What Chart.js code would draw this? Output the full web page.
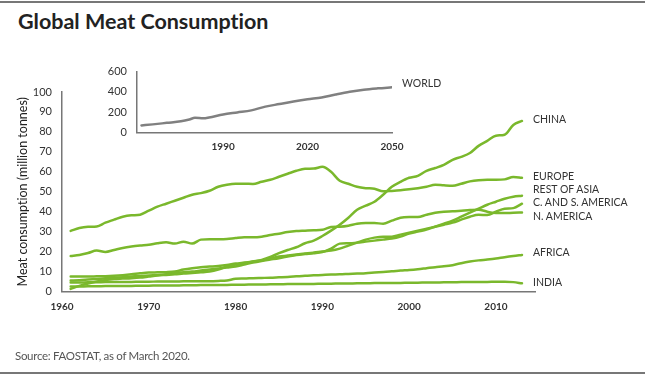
<!DOCTYPE html>
<html>
<head>
<meta charset="utf-8">
<script src="https://cdn.jsdelivr.net/npm/chart.js@4"></script>
<style>
  html, body { margin: 0; padding: 0; background: #fff; }
  #wrap { position: relative; width: 645px; height: 383px; overflow: hidden; font-family: Lato, "Noto Sans", sans-serif; font-variant-ligatures: none; font-feature-settings: "liga" 0, "clig" 0; }
  #main { position: absolute; left: 0; top: 0; }
  #inset { position: absolute; left: 90px; top: 55px; }
  .rule { position: absolute; left: 0; width: 645px; background: #777; }
  .title { position: absolute; left: 18px; top: 8px; font-size: 21.5px; font-weight: 700; color: #222; white-space: nowrap; }
  .source { position: absolute; left: 15px; top: 349px; font-size: 11.5px; letter-spacing: -0.3px; color: #555; white-space: nowrap; }
  .lab { position: absolute; font-size: 10.5px; color: #333; white-space: nowrap; line-height: 12px; }
</style>
</head>
<body>
<div id="wrap">
  <div class="rule" style="top:1px;height:2px"></div>
  <div class="title">Global Meat Consumption</div>
  <canvas id="main" width="645" height="383"></canvas>
  <canvas id="inset" width="330" height="100"></canvas>
  <div class="source">Source: FAOSTAT, as of March 2020.</div>
  <div class="rule" style="top:372px;height:1.5px"></div>
  <div id="labels"></div>
</div>
<script>
// ---------- DATA ----------
const years = [1961,1962,1963,1964,1965,1966,1967,1968,1969,1970,
  1971,1972,1973,1974,1975,1976,1977,1978,1979,1980,
  1981,1982,1983,1984,1985,1986,1987,1988,1989,1990,
  1991,1992,1993,1994,1995,1996,1997,1998,1999,2000,
  2001,2002,2003,2004,2005,2006,2007,2008,2009,2010,
  2011,2012,2013];

const china = [1.3,2.8,4.0,5.0,5.8,6.3,6.5,6.7,7.0,7.5,
  8.0,8.3,8.6,9.0,9.3,9.6,10.0,11.0,12.5,13.5,
  14.2,15.0,15.8,17.3,19.2,20.8,22.2,24.2,25.5,27.8,
  30.5,33.5,37.0,41.0,43.0,45.0,48.5,52.5,55.0,57.0,
  58.0,60.5,61.9,63.5,66.0,67.5,69.4,73.0,75.5,78.1,
  78.6,83.5,85.5];

const europe = [30.4,31.8,32.4,32.6,34.5,36.0,37.5,38.2,38.5,40.5,
  42.5,44.0,45.5,47.0,48.5,49.3,50.5,52.5,53.5,54.0,
  54.0,53.9,55.0,56.0,57.5,59.0,60.5,61.5,61.6,62.5,
  60.0,55.5,54.0,52.5,51.8,51.5,50.2,50.4,50.7,51.2,
  51.8,52.5,53.5,53.2,53.0,54.0,55.2,55.8,56.0,56.0,
  56.2,57.4,57.0];

const restOfAsia = [5.5,5.7,6.0,6.3,6.6,6.9,7.2,7.5,7.8,8.0,
  8.3,8.7,9.2,9.6,10.0,10.5,11.0,11.5,12.0,12.5,
  13.5,14.5,15.3,16.0,16.7,17.5,18.3,18.8,19.2,19.8,
  21.5,24.0,24.2,24.5,25.0,25.5,26.0,26.5,27.5,29.0,
  30.0,31.0,32.5,34.0,35.5,37.5,39.5,41.5,43.5,45.0,
  46.5,47.5,48.0];

const csAmerica = [7.5,7.5,7.5,7.6,7.7,7.9,8.2,8.6,9.1,9.5,
  9.6,9.7,10.0,11.0,11.7,12.2,12.5,12.8,13.3,14.0,
  14.5,15.0,15.5,16.5,17.5,18.0,18.5,19.0,19.5,20.0,
  20.5,21.5,23.0,24.5,26.0,27.0,27.5,27.5,28.5,29.5,
  30.5,31.5,32.5,33.5,34.5,36.0,37.5,38.5,38.3,40.0,
  41.5,41.8,44.0];

const nAmerica = [17.8,18.3,19.3,20.5,19.8,20.8,21.8,22.5,23.0,23.4,
  24.2,24.7,24.0,25.0,24.0,26.0,26.2,26.2,26.3,26.8,
  27.2,27.2,27.5,28.3,29.0,29.8,30.3,30.5,30.7,30.9,
  32.3,32.5,33.0,34.0,34.3,34.3,34.0,35.5,37.0,37.3,
  37.3,38.5,39.5,40.0,40.2,40.5,40.8,41.0,40.0,39.3,
  39.3,39.5,39.6];

const africa = [4.5,4.5,4.6,4.6,4.7,4.7,4.8,4.8,4.9,4.9,
  5.0,5.0,5.0,5.1,5.1,5.2,5.2,5.3,5.5,6.4,
  6.5,6.7,6.8,6.9,7.1,7.3,7.6,7.9,8.1,8.3,
  8.5,8.6,8.8,9.0,9.2,9.5,9.8,10.1,10.5,10.8,
  11.2,11.7,12.2,12.6,13.2,14.2,15.0,15.6,16.0,16.5,
  17.2,17.8,18.3];

const india = [2.5,2.5,2.6,2.6,2.7,2.7,2.8,2.8,2.9,2.9,
  3.0,3.0,3.0,3.1,3.1,3.2,3.2,3.3,3.3,3.4,
  3.4,3.5,3.5,3.6,3.6,3.7,3.7,3.8,3.8,3.9,
  3.9,4.0,4.0,4.1,4.1,4.2,4.2,4.3,4.3,4.4,
  4.4,4.5,4.5,4.6,4.6,4.7,4.7,4.8,4.8,4.9,
  4.9,4.7,4.1];

const worldYears  = [1961,1965,1970,1975,1978,1980,1983,1985,1990,1995,2000,2005,2010,2015,2020,2025,2030,2035,2040,2045,2050];
const worldValues = [70,80,95,110,128,145,140,148,178,198,218,255,280,305,327,345,375,402,422,435,445];

const xTicks = [1960,1970,1980,1990,2000,2010];
const yTicks = [0,10,20,30,40,50,60,70,80,90,100];
const insetXTicks = [1990,2020,2050];
const insetYTicks = [0,200,400,600];

const seriesNames = ["CHINA","EUROPE","REST OF ASIA","C. AND S. AMERICA","N. AMERICA","AFRICA","INDIA"];
const seriesValues = [china, europe, restOfAsia, csAmerica, nAmerica, africa, india];
const yAxisTitle = "Meat consumption (million tonnes)";
const insetLabel = "WORLD";

// ---------- STYLE / LAYOUT ----------
const GREEN = '#7ab82c';
const AXIS = '#777';
const FONT = 'Lato, "Noto Sans", sans-serif';

function pts(xs, ys) { return xs.map((x, i) => ({x: x, y: ys[i]})); }

new Chart(document.getElementById('main'), {
  type: 'line',
  data: {
    datasets: seriesValues.map((vals, i) => ({
      label: seriesNames[i],
      data: pts(years, vals),
      borderColor: GREEN,
      borderWidth: 2.5,
      pointRadius: 0,
      tension: 0.35,
      cubicInterpolationMode: 'monotone',
      borderCapStyle: 'round',
      borderJoinStyle: 'round',
      fill: false
    }))
  },
  options: {
    responsive: false,
    animation: false,
    events: [],
    layout: { padding: { left: 0, top: 92, right: 110, bottom: 61.5 } },
    plugins: { legend: { display: false }, tooltip: { enabled: false } },
    scales: {
      x: {
        type: 'linear', min: 1960, max: 2014.5,
        afterBuildTicks: s => { s.ticks = xTicks.map(v => ({value: v})); },
        afterFit: s => { s.height = 30; },
        grid: { display: false, drawTicks: false },
        border: { display: true, color: AXIS, width: 1.5 },
        ticks: { padding: 9, color: '#333', font: { family: FONT, size: 10, weight: 'bold' }, maxRotation: 0, autoSkip: false, callback: v => String(v) }
      },
      y: {
        type: 'linear', min: 0, max: 100,
        afterBuildTicks: s => { s.ticks = yTicks.map(v => ({value: v})); },
        afterFit: s => { s.width = 62; },
        grid: { display: false, drawTicks: false },
        border: { display: true, color: AXIS, width: 1.5 },
        ticks: { padding: 10, color: '#333', font: { family: FONT, size: 11 } },
        title: { display: true, text: yAxisTitle, color: '#222', font: { family: FONT, size: 12.5 }, padding: { top: 15, bottom: 0 } }
      }
    }
  }
});

new Chart(document.getElementById('inset'), {
  type: 'line',
  data: {
    datasets: [{
      label: insetLabel,
      data: pts(worldYears, worldValues),
      borderColor: '#808080',
      borderWidth: 2.5,
      pointRadius: 0,
      tension: 0.4,
      cubicInterpolationMode: 'monotone',
      borderCapStyle: 'round',
      fill: false
    }]
  },
  options: {
    responsive: false,
    animation: false,
    events: [],
    layout: { padding: { left: 0, top: 15.5, right: 28, bottom: 2.5 } },
    plugins: { legend: { display: false }, tooltip: { enabled: false } },
    scales: {
      x: {
        type: 'linear', min: 1959.4, max: 2050,
        afterBuildTicks: s => { s.ticks = insetXTicks.map(v => ({value: v})); },
        afterFit: s => { s.height = 20; },
        grid: { display: false, drawTicks: false },
        border: { display: true, color: AXIS, width: 1.5 },
        ticks: { padding: 8, color: '#333', font: { family: FONT, size: 10, weight: 'bold' }, maxRotation: 0, autoSkip: false, callback: v => String(v) }
      },
      y: {
        type: 'linear', min: 0, max: 600,
        afterBuildTicks: s => { s.ticks = insetYTicks.map(v => ({value: v})); },
        afterFit: s => { s.width = 47; },
        grid: { display: false, drawTicks: false },
        border: { display: true, color: AXIS, width: 1.5 },
        ticks: { padding: 10, color: '#333', font: { family: FONT, size: 11 } }
      }
    }
  }
});

// series end labels (real text)
const labelPos = [
  {x: 533, y: 119}, {x: 533, y: 175.5}, {x: 533, y: 189}, {x: 533, y: 202},
  {x: 533, y: 216}, {x: 533, y: 252}, {x: 533, y: 281.5}
];
const holder = document.getElementById('labels');
seriesNames.forEach((n, i) => {
  const d = document.createElement('div');
  d.className = 'lab';
  d.textContent = n;
  d.style.left = labelPos[i].x + 'px';
  d.style.top = (labelPos[i].y - 6) + 'px';
  holder.appendChild(d);
});
const w = document.createElement('div');
w.className = 'lab';
w.textContent = insetLabel;
w.style.left = '402px';
w.style.top = (83 - 6) + 'px';
holder.appendChild(w);
</script>
</body>
</html>
